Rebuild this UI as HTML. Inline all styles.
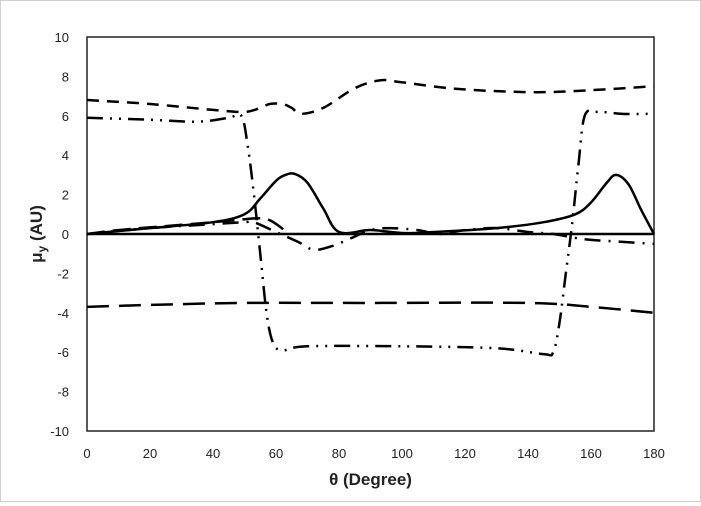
<!DOCTYPE html>
<html><head><meta charset="utf-8"><style>
html,body{margin:0;padding:0;background:#fff}
#wrap{position:relative;width:699px;height:500px;border:1px solid #d0d0d0;background:#fff}
svg text{font-family:"Liberation Sans",sans-serif;fill:#222}
</style></head><body>
<div id="wrap">
<svg id="chart" width="699" height="500"></svg>
</div>
<script>
const xTicks=[0,20,40,60,80,100,120,140,160,180];
const yTicks=[-10,-8,-6,-4,-2,0,2,4,6,8,10];
const solidX=[0,20,40,50,55,60,63,66,70,75,80,90,100,110,130,145,155,160,165,168,172,176,180];
const solidY=[0,0.3,0.6,1.0,1.8,2.7,3.0,3.05,2.6,1.3,0.1,0.2,0.05,0.1,0.3,0.6,1.0,1.6,2.6,3.0,2.5,1.2,0];
const shortDashX=[0,20,40,50,55,58,62,65,68,75,85,93,100,115,130,145,160,180];
const shortDashY=[6.8,6.6,6.3,6.2,6.4,6.6,6.6,6.4,6.1,6.4,7.4,7.8,7.7,7.4,7.25,7.2,7.3,7.5];
const dashDotX=[0,20,35,45,49,51,53,55,57,59,62,70,100,130,145,148,150,152,154,156,158,162,170,180];
const dashDotY=[5.9,5.8,5.7,5.9,6.0,4.5,2.0,-1.0,-4.0,-5.5,-5.9,-5.7,-5.7,-5.8,-6.1,-6.0,-4.5,-2.0,0.5,3.5,6.0,6.2,6.1,6.1];
const longDashX=[0,20,50,90,140,160,180];
const longDashY=[-3.7,-3.6,-3.5,-3.5,-3.5,-3.7,-4.0];
const nearZeroDashX=[0,10,25,40,50,55,58,61,64];
const nearZeroDashY=[0,0.2,0.4,0.6,0.75,0.8,0.7,0.4,0];
const nearZeroDotX=[0,20,40,50,53,60,67,72,78,84,90,96,105,112,120,130,140,148,155,160,170,180];
const nearZeroDotY=[0,0.3,0.5,0.6,0.6,0.1,-0.4,-0.8,-0.6,-0.2,0.2,0.3,0.2,0,0.2,0.3,0.1,0,-0.2,-0.3,-0.4,-0.5];

const L=86,R=653,T=36,B=430;
const sx=v=>L+(v-0)/180*(R-L);
const sy=v=>B-(v+10)/20*(B-T);
const svg=document.getElementById('chart');
const NS='http://www.w3.org/2000/svg';
function mk(tag,attrs){const e=document.createElementNS(NS,tag);for(const k in attrs)e.setAttribute(k,attrs[k]);svg.appendChild(e);return e;}

const box=mk('rect',{x:L,y:T,width:R-L,height:B-T,fill:'none',stroke:'#222','stroke-width':1.5});


const zl=mk('line',{x1:L,x2:R,y1:sy(0),y2:sy(0),stroke:'#000','stroke-width':2.5});



yTicks.forEach(v=>{const t=mk('text',{x:L-18,y:sy(v)+5,'text-anchor':'end','font-size':13});t.textContent=v;

});
xTicks.forEach(v=>{const t=mk('text',{x:sx(v),y:457,'text-anchor':'middle','font-size':13});t.textContent=v;

});

const xt=mk('text',{x:(L+R)/2,y:484,'text-anchor':'middle','font-size':17,'font-weight':'bold'});
xt.textContent='θ (Degree)';


const yt=mk('text',{x:0,y:0,'text-anchor':'middle','font-size':17,'font-weight':'bold',transform:'translate(41,'+sy(0)+') rotate(-90)'});
yt.innerHTML='μ<tspan font-size="12" dy="4">y</tspan><tspan dy="-4"> (AU)</tspan>';



function pathD(xs,ys){const p=xs.map((x,i)=>[sx(x),sy(ys[i])]);let d='M'+p[0][0]+','+p[0][1];
for(let i=0;i<p.length-1;i++){const p0=p[i-1]||p[i],p1=p[i],p2=p[i+1],p3=p[i+2]||p2;
const c1=[p1[0]+(p2[0]-p0[0])/6,p1[1]+(p2[1]-p0[1])/6],c2=[p2[0]-(p3[0]-p1[0])/6,p2[1]-(p3[1]-p1[1])/6];
d+=' C'+c1[0]+','+c1[1]+' '+c2[0]+','+c2[1]+' '+p2[0]+','+p2[1];}return d;}
function series(xs,ys,dash,name){const e=mk('path',{d:pathD(xs,ys),fill:'none',stroke:'#000','stroke-width':2.5,'stroke-dasharray':dash});

}
series(longDashX,longDashY,'22 10','series-long-dash');
series(shortDashX,shortDashY,'12 8','series-short-dash');
series(dashDotX,dashDotY,'16 7 2 7 2 7','series-dash-dot-dot');
series(nearZeroDashX,nearZeroDashY,'18 8','series-near-zero-dash');
series(nearZeroDotX,nearZeroDotY,'16 8 2 8','series-near-zero-dash-dot');
series(solidX,solidY,'none','series-solid');
</script>
</body></html>
